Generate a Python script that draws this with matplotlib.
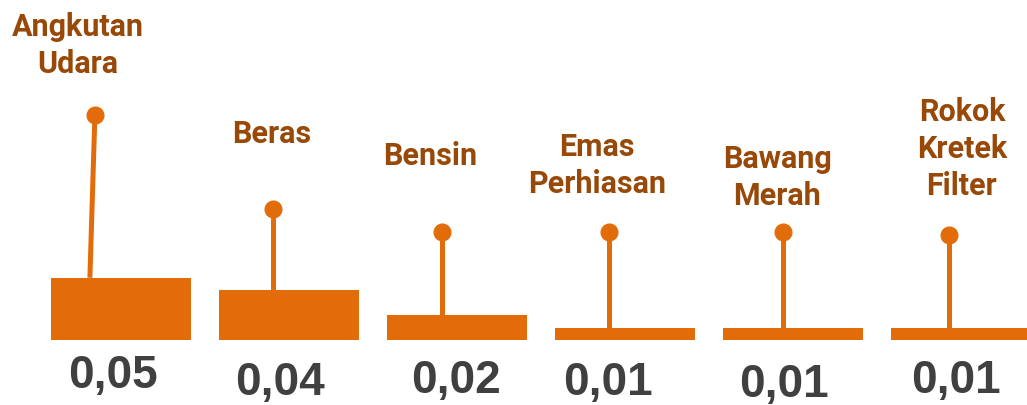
import matplotlib
matplotlib.use('Agg')
import matplotlib.pyplot as plt

# dados do grafico
kategori = ['Angkutan\nUdara', 'Beras', 'Bensin', 'Emas\nPerhiasan', 'Bawang\nMerah', 'Rokok\nKretek\nFilter']
andil = [0.05, 0.04, 0.02, 0.01, 0.01, 0.01]
label_andil = ['0,05', '0,04', '0,02', '0,01', '0,01', '0,01']
# altura do topo de cada "alfinete"
tinggi_pin = [0.181, 0.105, 0.087, 0.087, 0.087, 0.084]

# posicoes (layout)
geser_pin = [-0.155, -0.095, -0.09, -0.095, -0.06, -0.07]
geser_pin_bawah = [-0.185, -0.095, -0.09, -0.095, -0.06, -0.07]
geser_label = [-0.256, -0.10, -0.16, -0.167, -0.095, 0.006]
y_label = [0.2145, 0.1582, 0.1406, 0.1181, 0.1084, 0.1165]
geser_nilai = [-0.048, -0.054, -0.006, -0.10, -0.054, -0.03]
y_nilai = [-0.0386, -0.0442, -0.0426, -0.0442, -0.0458, -0.0426]

oranye = '#E36C0A'
coklat = '#984807'
abu = '#404040'

fig = plt.figure(figsize=(10.27, 4.05), dpi=100)
ax = fig.add_axes([0, 0, 1, 1])
ax.set_xlim(-0.720, 5.393)
ax.set_ylim(-0.0522, 0.2731)
ax.axis('off')

x = list(range(len(andil)))
ax.bar(x, andil, width=140 / 168, color=oranye, zorder=2)

for i in x:
    ax.plot([i + geser_pin_bawah[i], i + geser_pin[i]], [andil[i], tinggi_pin[i]],
            color=oranye, lw=3.6, zorder=1, solid_capstyle='butt')
    ax.plot(i + geser_pin[i], tinggi_pin[i], 'o', color=oranye, ms=12, zorder=3)
    ax.text(i + geser_label[i], y_label[i], kategori[i], ha='center', va='baseline',
            fontsize=22, fontweight='bold', color=coklat, linespacing=1.3,
            family=['Roboto', 'Liberation Sans'])
    ax.text(i + geser_nilai[i], y_nilai[i], label_andil[i], ha='center', va='baseline',
            fontsize=33, fontweight='bold', color=abu, family='Liberation Sans')

fig.savefig('out.png', dpi=100)
